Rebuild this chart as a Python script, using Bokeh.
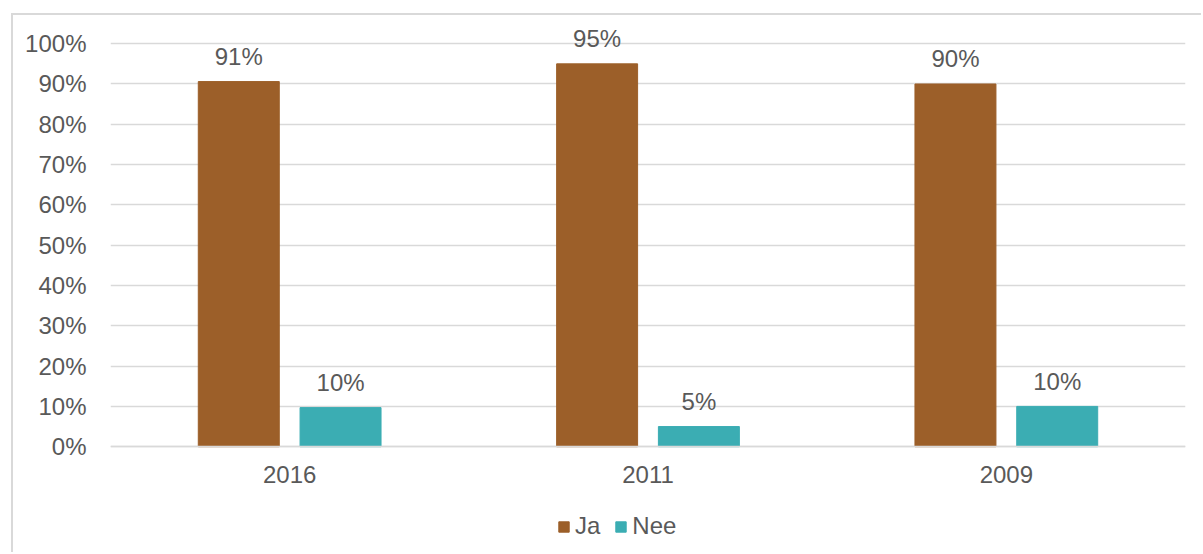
from bokeh.plotting import figure
from bokeh.models import ColumnDataSource, FactorRange, NumeralTickFormatter, Legend, LegendItem, FixedTicker
from bokeh.transform import dodge
from bokeh.core.properties import value
from bokeh.embed import file_html
from bokeh.resources import INLINE

years = ["2016", "2011", "2009"]
ja = [0.906, 0.95, 0.90]
nee = [0.097, 0.05, 0.10]
ja_labels = ["91%", "95%", "90%"]
nee_labels = ["10%", "5%", "10%"]
y_ticks = [0.0, 0.1, 0.2, 0.3, 0.4, 0.5, 0.6, 0.7, 0.8, 0.9, 1.0]

FONT = "Liberation Sans"
FS = "24px"
TXT = "#595959"
GRID = "#D9D9D9"
BROWN = "#9C5F29"
TEAL = "#3BADB3"

src = ColumnDataSource(dict(year=years, ja=ja, nee=nee, ja_l=ja_labels, nee_l=nee_labels))

p = figure(x_range=FactorRange(*years), y_range=(-0.2675, 1.065),
           width=1190, height=539, output_backend="svg", toolbar_location=None,
           min_border_left=97, min_border_right=18, min_border_top=2, min_border_bottom=0)
p.styles = {"border-left": "2px solid #D9D9D9", "border-top": "2px solid #D9D9D9",
            "margin-left": "11px", "margin-top": "13px"}
p.outline_line_color = None
p.background_fill_color = "white"
p.border_fill_color = "white"

r1 = p.vbar(x=dodge("year", -0.142, range=p.x_range), top="ja", bottom=0, width=0.226, source=src,
            fill_color=BROWN, line_color=BROWN)
r2 = p.vbar(x=dodge("year", 0.142, range=p.x_range), top="nee", bottom=0, width=0.226, source=src,
            fill_color=TEAL, line_color=TEAL)

p.text(x=dodge("year", -0.142, range=p.x_range), y="ja", text="ja_l", source=src,
       text_align="center", text_baseline="alphabetic", y_offset=-25,
       text_font=value(FONT), text_font_size=FS, text_color=TXT)
p.text(x=dodge("year", 0.142, range=p.x_range), y="nee", text="nee_l", source=src,
       text_align="center", text_baseline="alphabetic", y_offset=-25,
       text_font=value(FONT), text_font_size=FS, text_color=TXT)

p.yaxis.ticker = FixedTicker(ticks=y_ticks)
p.yaxis.formatter = NumeralTickFormatter(format="0%")
p.yaxis.axis_line_color = None
p.yaxis.major_tick_line_color = None
p.yaxis.minor_tick_line_color = None
p.yaxis.major_label_standoff = 18
p.yaxis.major_label_text_font = FONT
p.yaxis.major_label_text_font_size = FS
p.yaxis.major_label_text_color = TXT

p.xaxis.fixed_location = 0
p.xaxis.axis_line_color = GRID
p.xaxis.axis_line_width = 1.5
p.xaxis.major_tick_line_color = None
p.xaxis.minor_tick_line_color = None
p.xaxis.major_label_standoff = 13
p.xaxis.major_label_text_font = FONT
p.xaxis.major_label_text_font_size = FS
p.xaxis.major_label_text_color = TXT

p.xgrid.grid_line_color = None
p.ygrid.grid_line_color = GRID
p.ygrid.grid_line_width = 1.5

legend = Legend(items=[LegendItem(label="Ja", renderers=[r1]), LegendItem(label="Nee", renderers=[r2])],
                orientation="horizontal", location=(447, 14),
                label_text_font=FONT, label_text_font_size=FS, label_text_color=TXT,
                glyph_width=13, glyph_height=13, spacing=14, label_standoff=5,
                border_line_color=None, background_fill_alpha=0, margin=0, padding=4)
p.add_layout(legend, "center")

open("out.html", "w").write(file_html(p, INLINE))
